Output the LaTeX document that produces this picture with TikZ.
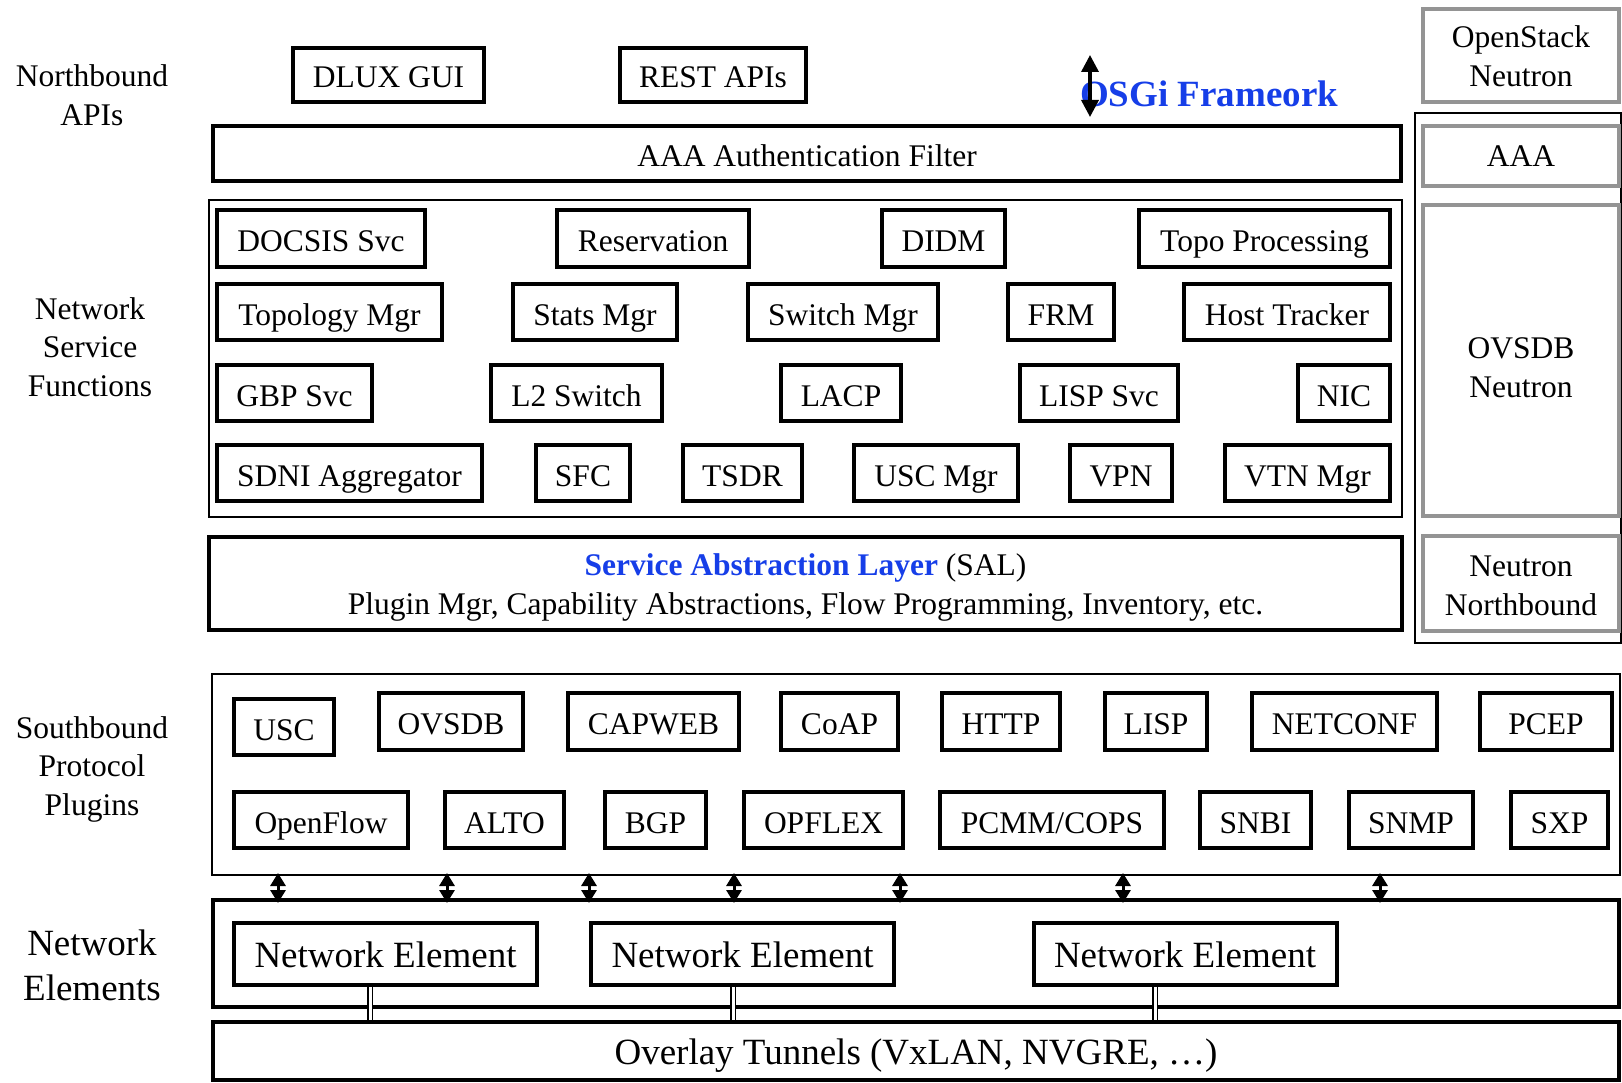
\documentclass[tikz,border=0pt]{standalone}
\usepackage{fontspec}
\setmainfont{Liberation Serif}
\usetikzlibrary{arrows.meta}

\definecolor{osgblue}{RGB}{22,62,232}
\newcommand{\bodysz}{\fontsize{31.5}{38.5}\selectfont}
\newcommand{\bigsz}{\fontsize{37}{45}\selectfont}

\begin{document}
\begin{tikzpicture}[x=1pt,y=-1pt,
    every node/.style={font=\bodysz},
    box/.style={draw, line width=4pt, inner sep=0pt},
    tbox/.style={box, text height=26pt, text depth=0pt},
    grp/.style={draw, line width=2pt, inner sep=0pt},
    gbox/.style={draw=black!42, line width=4pt, inner sep=0pt, align=center},
    side/.style={align=center},
    biarr/.style={line width=3pt, {Triangle[width=15pt,length=13pt]}-{Triangle[width=15pt,length=13pt]}},
    link/.style={double, double distance=3pt, line width=1.5pt}]
\useasboundingbox (0,0) rectangle (1622,1083);

% left column labels
\node[side] (lnb) at (92,95) {Northbound\\APIs};
\node[side] (lnsf) at (90,347) {Network\\Service\\Functions};
\node[side] (lsbp) at (92,766) {\rule{0pt}{28pt}Southbound\\Protocol\\Plugins};
\node[side, font=\bigsz] (lne) at (92,965) {Network\\Elements};

% northbound
\node[tbox, minimum width=191pt, minimum height=54pt] (dlux) at (388.5,75) {DLUX GUI};
\node[tbox, minimum width=186pt, minimum height=54pt] (rest) at (713,75) {REST APIs};
\node[font=\bigsz\bfseries, text=osgblue] (osgi) at (1209,94) {OSGi Frameork};
\coordinate (osgt) at (1090,55);
\coordinate (osgb) at (1090,117);
\draw[line width=3.5pt, {Triangle[width=17pt,length=17pt]}-{Triangle[width=17pt,length=17pt]}] (osgt) -- (osgb);
\node[tbox, minimum width=1188pt, minimum height=55pt] (aaaf) at (807,153.5) {AAA Authentication Filter};

% network service functions
\node[grp, minimum width=1193pt, minimum height=317pt] (nsf) at (805.5,358.5) {};
\foreach \n/\x/\w/\txt in {docsis/321/208/DOCSIS Svc, resv/653/192/Reservation,
    didm/943.5/123/DIDM, topo/1264.5/251/Topo Processing}
  \node[tbox, minimum width=\w pt, minimum height=57pt] (\n) at (\x,238.5) {\txt};
\foreach \n/\x/\w/\txt in {topomgr/329.5/225/Topology Mgr, stats/595/164/Stats Mgr,
    switch/843/190/Switch Mgr, frm/1061/106/FRM, host/1287/206/Host Tracker}
  \node[tbox, minimum width=\w pt, minimum height=56pt] (\n) at (\x,312) {\txt};
\foreach \n/\x/\w/\txt in {gbp/294.5/155/GBP Svc, ltwo/576.5/171/L2 Switch,
    lacp/841/120/LACP, lispsvc/1099/158/LISP Svc, nic/1344/92/NIC}
  \node[tbox, minimum width=\w pt, minimum height=56pt] (\n) at (\x,393) {\txt};
\foreach \n/\x/\w/\txt in {sdni/349.5/265/SDNI Aggregator, sfc/583/94/SFC,
    tsdr/742.5/119/TSDR, uscmgr/936/164/USC Mgr, vpn/1121/102/VPN, vtn/1307.5/165/VTN Mgr}
  \node[tbox, minimum width=\w pt, minimum height=56pt] (\n) at (\x,473) {\txt};

% SAL
\node[box, align=center, minimum width=1193pt, minimum height=93pt] (sal) at (805.5,583.5)
  {\rule{0pt}{30pt}\textcolor{osgblue}{\bfseries Service Abstraction Layer} (SAL)\\
   Plugin Mgr, Capability Abstractions, Flow Programming, Inventory, etc.};

% right column
\node[grp, minimum width=206pt, minimum height=530pt] (rcol) at (1518,378) {};
\node[gbox, minimum width=196pt, minimum height=93pt] (osn) at (1521,55.5) {\rule{0pt}{23pt}OpenStack\\Neutron};
\node[gbox, minimum width=196pt, minimum height=60pt] (aaa) at (1521,156) {AAA};
\node[gbox, minimum width=196pt, minimum height=311pt] (ovn) at (1521,360.5) {\rule{0pt}{35pt}OVSDB\\Neutron};
\node[gbox, minimum width=196pt, minimum height=95pt] (nnb) at (1521,583.5) {\rule{0pt}{25pt}Neutron\\Northbound};

% southbound plugins
\node[grp, minimum width=1408pt, minimum height=201pt] (sbp) at (916,774.5) {};
\node[tbox, minimum width=100pt, minimum height=56pt] (usc) at (284,727) {USC};
\foreach \n/\x/\w/\txt in {ovsdb/451/144/OVSDB, capweb/653.5/171/CAPWEB, coap/839.5/117/CoAP,
    http/1001/118/HTTP, lisp/1156/102/LISP, netconf/1344.5/185/NETCONF, pcep/1546/132/PCEP}
  \node[tbox, minimum width=\w pt, minimum height=57pt] (\n) at (\x,721.5) {\txt};
\foreach \n/\x/\w/\txt in {openflow/321/174/OpenFlow, alto/504.5/119/ALTO, bgp/655.5/101/BGP,
    opflex/823.5/159/OPFLEX, pcmm/1052/224/{PCMM/COPS}, snbi/1255.5/111/SNBI,
    snmp/1411/124/SNMP, sxp/1559.5/97/SXP}
  \node[tbox, minimum width=\w pt, minimum height=56pt] (\n) at (\x,820) {\txt};

% network elements
\node[box, minimum width=1406pt, minimum height=107pt] (nes) at (916,953.5) {};
\foreach \n/\x in {ne1/385.5, ne2/742.5, ne3/1185}
  \node[tbox, font=\bigsz, minimum width=303pt, minimum height=62pt] (\n) at (\x,954) {Network Element};
\node[tbox, font=\bigsz, minimum width=1406pt, minimum height=58pt] (ovl) at (916,1051)
  {Overlay Tunnels (VxLAN, NVGRE, \dots)};

% links
\foreach \x in {278,447,589,734,900,1123,1380}
  \draw[biarr, shorten <=-3pt, shorten >=-5pt] (sbp.south -| \x,0) -- (nes.north -| \x,0);
\foreach \n/\x in {ne1/370, ne2/733, ne3/1155}
  \draw[link] (\n.south -| \x,0) -- (ovl.north -| \x,0);
\end{tikzpicture}
\end{document}
